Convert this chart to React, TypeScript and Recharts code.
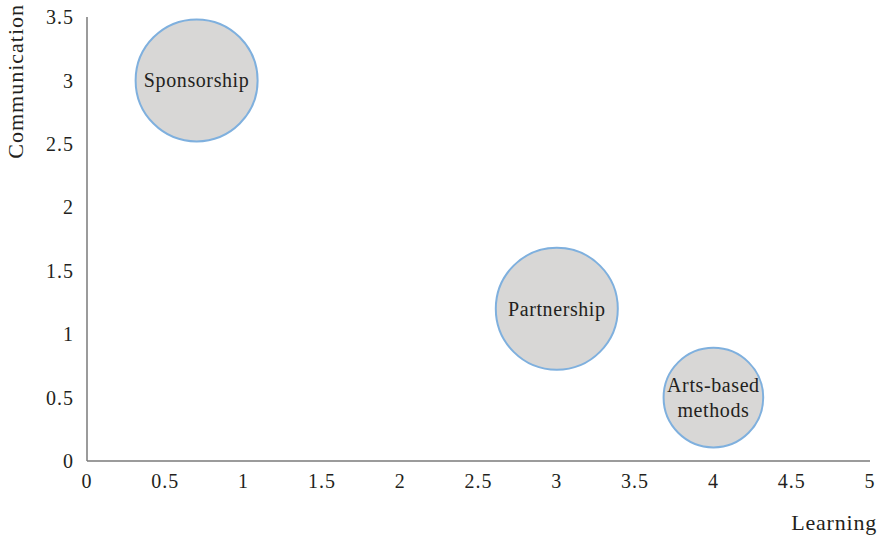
import { ScatterChart, Scatter, XAxis, YAxis, ZAxis } from "recharts";

const names = ["Sponsorship", "Partnership", "Arts-based\nmethods"];
const learning = [0.7, 3, 4];
const communication = [3, 1.2, 0.5];
const sizes = [3, 3, 2];

const xTicks = [0, 0.5, 1, 1.5, 2, 2.5, 3, 3.5, 4, 4.5, 5];
const yTicks = [0, 0.5, 1, 1.5, 2, 2.5, 3, 3.5];

const data = names.map((name, i) => ({
  name,
  x: learning[i],
  y: communication[i],
  z: sizes[i],
}));

const FONT = "'Liberation Serif', 'DejaVu Serif', serif";
const INK = "#231f20";

// circle with its label centred inside
const Bubble = (props: any) => {
  const { cx, cy, size, payload } = props;
  const r = Math.sqrt(size / Math.PI);
  const lines: string[] = String(payload.name).split("\n");
  const lh = 25;
  const start = cy - ((lines.length - 1) * lh) / 2;
  return (
    <g>
      <circle cx={cx} cy={cy} r={r} fill="#d8d7d6" stroke="#7fb0de" strokeWidth={2} />
      {lines.map((l, i) => (
        <text
          key={i}
          x={cx}
          y={start + i * lh}
          dy="0.35em"
          textAnchor="middle"
          fontSize={20}
          letterSpacing={0.6}
          fontFamily={FONT}
          fill={INK}
        >
          {l}
        </text>
      ))}
    </g>
  );
};

const tickStyle = { fontSize: 20, fontFamily: FONT, fill: INK, letterSpacing: 1 };

export default function App() {
  return (
    <div>
      <style>{"body{margin:0}"}</style>
      <ScatterChart
        width={882}
        height={539}
        margin={{ top: 17, right: 12, bottom: 38, left: 0 }}
      >
        <XAxis
          type="number"
          dataKey="x"
          domain={[0, 5]}
          ticks={xTicks}
          interval={0}
          tickLine={false}
          tickMargin={7}
          height={40}
          stroke="#7a7a7a"
          strokeWidth={1.5}
          tick={tickStyle}
          label={{
            content: (p: any) => (
              <text
                x={p.viewBox.x + p.viewBox.width + 7}
                y={p.viewBox.y + 69}
                textAnchor="end"
                fontSize={22}
                letterSpacing={0.8}
                fontFamily={FONT}
                fill={INK}
              >
                Learning
              </text>
            ),
          }}
        />
        <YAxis
          type="number"
          dataKey="y"
          domain={[0, 3.5]}
          ticks={yTicks}
          interval={0}
          tickLine={false}
          tickMargin={7}
          width={87}
          stroke="#7a7a7a"
          strokeWidth={1.5}
          tick={tickStyle}
          label={{
            content: () => (
              <text
                transform="translate(23,4) rotate(-90)"
                textAnchor="end"
                fontSize={22}
                letterSpacing={1}
                fontFamily={FONT}
                fill={INK}
              >
                Communication
              </text>
            ),
          }}
        />
        <ZAxis type="number" dataKey="z" domain={[0, 3]} range={[0, Math.PI * 61 * 61]} />
        <Scatter data={data} shape={<Bubble />} isAnimationActive={false} />
      </ScatterChart>
    </div>
  );
}
